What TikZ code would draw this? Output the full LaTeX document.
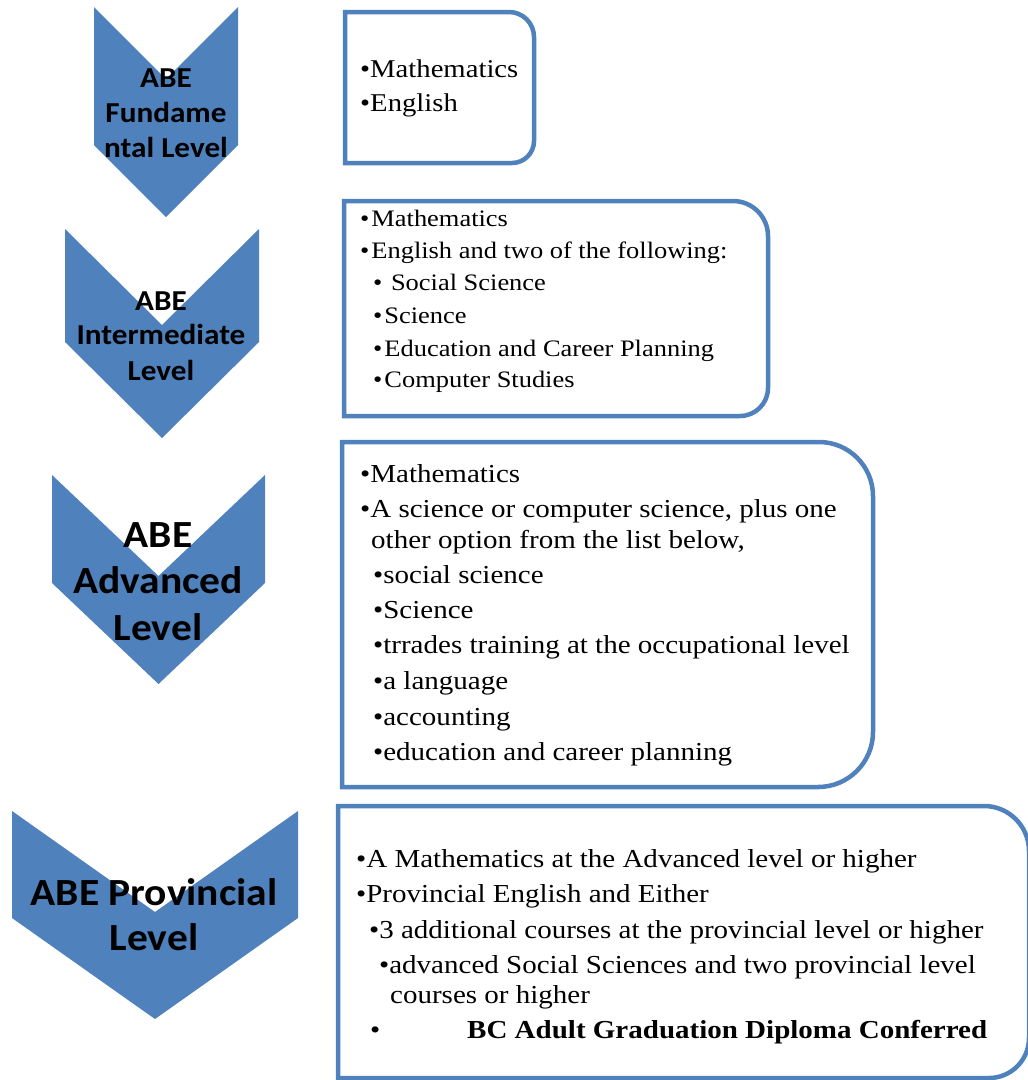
\documentclass[tikz,border=0pt]{standalone}
\usepackage{fontspec}
\setmainfont{Liberation Serif}
\newfontfamily\bxfont[FakeStretch=1.12]{Liberation Serif}
\newfontfamily\chfont[FakeStretch=1.08]{Carlito}
\definecolor{accent}{HTML}{4F81BD}
\tikzset{
  chev/.style={fill=accent, draw=none},
  panel/.style={draw=accent, line width=4.5pt, fill=white},
  chtxtS/.style={anchor=base, inner sep=0pt, text=black, font={\chfont\bfseries\fontsize{28.9}{35}\selectfont}},
  chtxtL/.style={anchor=base, inner sep=0pt, text=black, font={\chfont\bfseries\fontsize{38.4}{45}\selectfont}},
  bxA/.style={anchor=base west, inner sep=0pt, text=black, font={\bxfont\fontsize{25.6}{32}\selectfont}},
  bxB/.style={anchor=base west, inner sep=0pt, text=black, font={\bxfont\fontsize{23.6}{30}\selectfont}},
  bxC/.style={anchor=base west, inner sep=0pt, text=black, font={\bxfont\fontsize{25.9}{32}\selectfont}},
}
\begin{document}
\begin{tikzpicture}[x=1pt,y=-1pt]
\useasboundingbox[fill=white] (0,0) rectangle (1028,1080);

% chevrons
\fill[chev] (94,7) -- (166,79) -- (238,7) -- (238,145) -- (166,217) -- (94,145) -- cycle;
\fill[chev] (65,229) -- (162,325) -- (259,229) -- (259,342) -- (162,438) -- (65,342) -- cycle;
\fill[chev] (52,475) -- (158.5,576) -- (265,475) -- (265,583) -- (158.5,684) -- (52,583) -- cycle;
\fill[chev] (12,811) -- (155,912) -- (298,811) -- (298,918) -- (155,1019) -- (12,918) -- cycle;

% panels (right corners rounded)
\filldraw[panel] (345,12) -- (509,12) arc[start angle=90,end angle=0,radius=25pt]
  -- (534,141) arc[start angle=0,end angle=-90,radius=22pt] -- (345,163) -- cycle;
\filldraw[panel] (344,201) -- (733,201) arc[start angle=90,end angle=0,radius=35pt]
  -- (768,388) arc[start angle=0,end angle=-90,radius=28pt] -- (344,416) -- cycle;
\filldraw[panel] (342,442) -- (819,442) arc[start angle=90,end angle=0,radius=54pt]
  -- (873,732) arc[start angle=0,end angle=-90,radius=55pt] -- (342,787) -- cycle;
\filldraw[panel] (338,806) -- (984,806) arc[start angle=90,end angle=0,radius=45pt]
  -- (1029,1038) arc[start angle=0,end angle=-90,radius=40pt] -- (338,1078) -- cycle;

% chevron labels
\node[chtxtS] (c1a) at (166,87) {ABE};
\node[chtxtS] (c1b) at (166,122) {Fundame};
\node[chtxtS] (c1c) at (166,157) {ntal Level};
\node[chtxtS] (c2a) at (161,310) {ABE};
\node[chtxtS] (c2b) at (161,344) {Intermediate};
\node[chtxtS] (c2c) at (161,380) {Level};
\node[chtxtL] (c3a) at (158,547) {ABE};
\node[chtxtL] (c3b) at (158,593) {Advanced};
\node[chtxtL] (c3c) at (158,640) {Level};
\node[chtxtL] (c4a) at (154,905) {ABE Provincial};
\node[chtxtL] (c4b) at (154,950) {Level};

% box 1
\node[bxA] (b1a) at (360,77) {•Mathematics};
\node[bxA] (b1b) at (360,111) {•English};

% box 2
\node[bxB] (b2a) at (360,226) {•\kern2pt Mathematics};
\node[bxB] (b2b) at (360,258) {•\kern2pt English and two of the following:};
\node[bxB] (b2c) at (373,290.5) {•\kern2pt\ Social Science};
\node[bxB] (b2d) at (373,323) {•\kern2pt Science};
\node[bxB] (b2e) at (373,356) {•\kern2pt Education and Career Planning};
\node[bxB] (b2f) at (373,387) {•\kern2pt Computer Studies};

% box 3
\node[bxC] (b3a) at (360,482.5) {•Mathematics};
\node[bxC] (b3b) at (360,517) {•A science or computer science, plus one};
\node[bxC] (b3c) at (371,548) {other option from the list below,};
\node[bxC] (b3d) at (373,583) {•social science};
\node[bxC] (b3e) at (373,618) {•Science};
\node[bxC] (b3f) at (373,653) {•trrades training at the occupational level};
\node[bxC] (b3g) at (373,689) {•a language};
\node[bxC] (b3h) at (373,725) {•accounting};
\node[bxC] (b3i) at (373,760) {•education and career planning};

% box 4
\node[bxC] (b4a) at (356,867) {•A Mathematics at the Advanced level or higher};
\node[bxC] (b4b) at (356,902) {•Provincial English and Either};
\node[bxC] (b4c) at (369,938) {•3 additional courses at the provincial level or higher};
\node[bxC] (b4d) at (379,973) {•advanced Social Sciences and two provincial level};
\node[bxC] (b4e) at (390,1003) {courses or higher};
\node[bxC] (b4f) at (370,1038) {•};
\node[bxC, font={\bxfont\bfseries\fontsize{25.9}{32}\selectfont}] (b4g) at (467,1038) {BC Adult Graduation Diploma Conferred};
\end{tikzpicture}
\end{document}
